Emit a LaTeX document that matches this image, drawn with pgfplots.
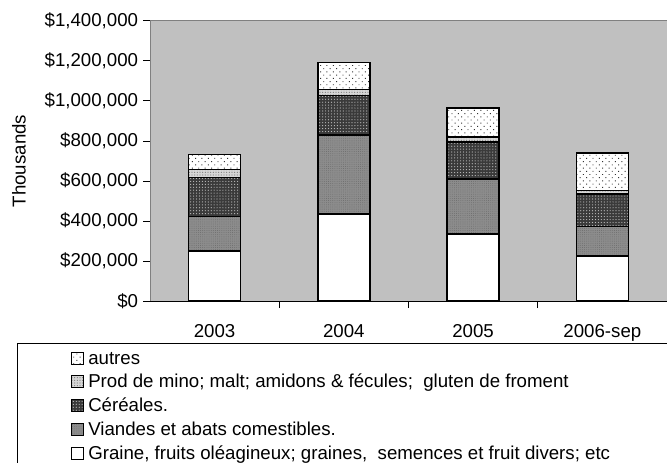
\documentclass[border=0pt]{standalone}
\usepackage{pgfplots}
\pgfplotsset{compat=1.18}
\usepackage{pgfplotstable}
\usepackage{fontspec}
\setmainfont{Liberation Sans}
\usetikzlibrary{patterns.meta}
\definecolor{plotgray}{HTML}{C0C0C0}
\definecolor{framegray}{HTML}{808080}
\definecolor{viandes}{HTML}{8C8C8C}
\definecolor{cereales}{HTML}{3A3A3A}
\definecolor{prod}{HTML}{D6D6D6}

\pgfplotstableread{
x graine viandes cereales prod autres
0 250000 172000 195000 41000 75000
1 434000 397000 197000 30000 134000
2 336000 275000 183000 25000 147000
3 225000 148000 163000 17000 188000
}\datatable

\newcommand{\txt}{\fontsize{14}{16.8}\selectfont}

\begin{document}
\begin{tikzpicture}
\useasboundingbox (0,0) rectangle (500.25pt,-347.25pt);
% legend frame (left and top edges only; the rest is off the picture)
\draw[black, line width=0.75pt] (12.75pt,-347.25pt) -- (12.75pt,-257.25pt) -- (500.25pt,-257.25pt);
\begin{axis}[
  at={(112.5pt,-15.75pt)}, anchor=north west,
  scale only axis,
  width=387.75pt, height=210pt,
  xmin=-0.5, xmax=3.5,
  ymin=0, ymax=1400000,
  ybar stacked,
  bar width=39pt,
  axis background/.style={fill=plotgray},
  axis line style={draw=framegray, line width=0.75pt},
  tick style={black, line width=0.75pt},
  tick align=outside,
  major tick length=5.25pt,
  xtick pos=bottom, ytick pos=left,
  xtick={0.5,1.5,2.5}, xticklabels={},
  extra x ticks={0,1,2,3},
  extra x tick labels={2003,2004,2005,2006-sep},
  extra x tick style={tick style={draw=none}, xticklabel style={yshift=-9pt}},
  ytick={0,200000,400000,600000,800000,1000000,1200000,1400000},
  yticklabels={{\$0},{\$200,000},{\$400,000},{\$600,000},{\$800,000},{\$1,000,000},{\$1,200,000},{\$1,400,000}},
  yticklabel style={inner sep=3.5pt},
  scaled y ticks=false,
  tick label style={font=\txt},
  ylabel={Thousands},
  ylabel style={font=\txt, at={(rel axis cs:-0.2534,0.5)}, anchor=center},
  reverse legend,
  legend image code/.code={\draw[#1, line width=0.75pt] (0pt,0pt) rectangle (9pt,9pt);},
  legend style={at={(rel axis cs:-0.1528,-0.1757)}, anchor=north west,
    draw=none, fill=none, font=\txt, inner sep=0pt, row sep=4.6pt, column sep=3pt,
    nodes={inner sep=0pt, anchor=base west, text height=10.2pt, text depth=3pt},
    legend cell align=left},
  every axis plot/.append style={draw=black, line width=1.1pt},
  after end axis/.code={\draw[black, line width=0.75pt] (rel axis cs:0,0) -- (rel axis cs:1,0);},
]
\addplot[fill=white] table[x=x, y=graine] {\datatable};
\addplot[fill=viandes, postaction={pattern={Dots[distance=1.6pt, radius=0.3pt]}, pattern color=black!60}] table[x=x, y=viandes] {\datatable};
\addplot[fill=cereales, postaction={pattern={Dots[distance=2.2pt, radius=0.45pt]}, pattern color=white!75!black}] table[x=x, y=cereales] {\datatable};
\addplot[fill=prod, postaction={pattern={Dots[distance=2pt, radius=0.45pt]}, pattern color=gray}] table[x=x, y=prod] {\datatable};
\addplot[fill=white, postaction={pattern={Dots[distance=3.4pt, radius=0.5pt, angle=45]}, pattern color=black!80}] table[x=x, y=autres] {\datatable};
\legend{{Graine, fruits oléagineux; graines,\ \ semences et fruit divers; etc},
        {Viandes et abats comestibles.},
        {Céréales.},
        {Prod de mino; malt; amidons \& fécules;\ \ gluten de froment},
        {autres}}
\end{axis}
\end{tikzpicture}
\end{document}
